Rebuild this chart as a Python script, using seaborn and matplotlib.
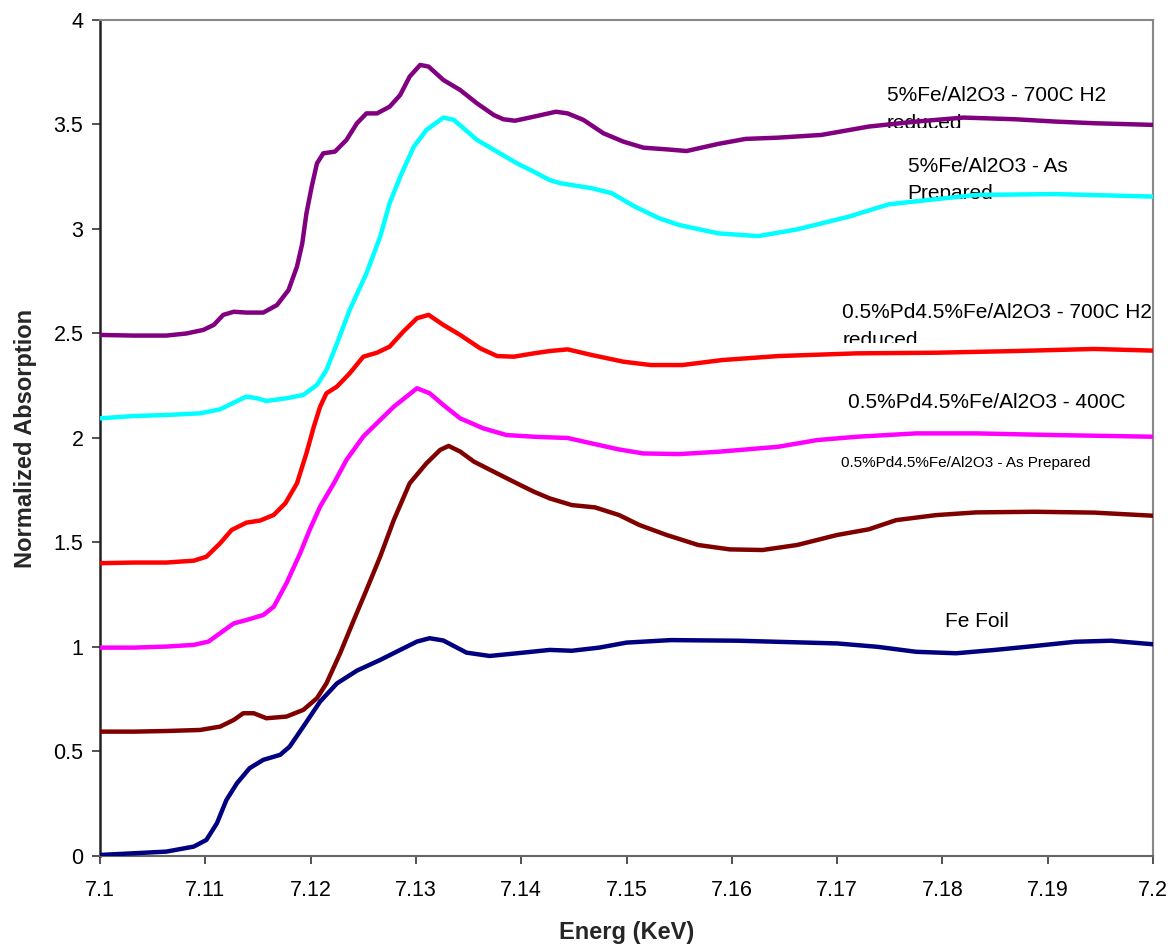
import matplotlib
matplotlib.use("Agg")
from matplotlib import pyplot as plt
from matplotlib.transforms import Bbox, TransformedBbox
import seaborn as sns
import pandas as pd

# --- data (energy in KeV, normalized absorption) ---
FE_FOIL_X = [7.1, 7.1032, 7.1063, 7.1089, 7.1101, 7.1111, 7.112, 7.113, 7.1142, 7.1155,
             7.1171, 7.118, 7.1193, 7.1209, 7.1225, 7.1244, 7.1266, 7.1285, 7.1301, 7.1313,
             7.1326, 7.1348, 7.137, 7.1396, 7.1427, 7.1448, 7.1474, 7.15, 7.1542, 7.1606,
             7.17, 7.1738, 7.1775, 7.1813, 7.185, 7.1888, 7.1926, 7.196, 7.2]
FE_FOIL_Y = [0.005, 0.013, 0.021, 0.045, 0.077, 0.157, 0.268, 0.348, 0.42, 0.46,
             0.484, 0.523, 0.619, 0.739, 0.826, 0.887, 0.938, 0.986, 1.026, 1.042,
             1.031, 0.973, 0.957, 0.97, 0.986, 0.982, 0.997, 1.021, 1.033, 1.03,
             1.017, 1.001, 0.977, 0.97, 0.986, 1.005, 1.025, 1.03, 1.013]

PD_PREP_X = [7.1, 7.1032, 7.1063, 7.1095, 7.1114, 7.1127, 7.1136, 7.1146, 7.1158, 7.1177,
             7.1193, 7.1206, 7.1215, 7.1228, 7.1241, 7.1253, 7.1266, 7.1279, 7.1294, 7.131,
             7.1323, 7.1331, 7.1342, 7.1355, 7.138, 7.1399, 7.1412, 7.1427, 7.1448, 7.147,
             7.1493, 7.1512, 7.1538, 7.1568, 7.1598, 7.1629, 7.1662, 7.17, 7.173, 7.1756,
             7.1794, 7.1832, 7.1888, 7.1944, 7.2]
PD_PREP_Y = [0.595, 0.595, 0.598, 0.603, 0.619, 0.651, 0.683, 0.683, 0.659, 0.667,
             0.699, 0.755, 0.826, 0.97, 1.129, 1.273, 1.432, 1.608, 1.783, 1.879,
             1.943, 1.962, 1.935, 1.887, 1.823, 1.775, 1.743, 1.711, 1.679, 1.668,
             1.631, 1.584, 1.536, 1.488, 1.467, 1.464, 1.488, 1.536, 1.563, 1.607,
             1.631, 1.644, 1.647, 1.643, 1.628]

PD_400_X = [7.1, 7.1032, 7.1063, 7.1089, 7.1103, 7.1114, 7.1127, 7.1139, 7.1155, 7.1165,
            7.1177, 7.119, 7.1199, 7.1209, 7.1222, 7.1234, 7.125, 7.1266, 7.1279, 7.1301,
            7.1313, 7.1326, 7.1342, 7.1364, 7.1386, 7.1412, 7.1427, 7.1444, 7.1467, 7.1493,
            7.1516, 7.155, 7.1587, 7.1644, 7.1681, 7.1719, 7.1775, 7.1832, 7.1907, 7.2]
PD_400_Y = [0.997, 0.997, 1.002, 1.01, 1.026, 1.066, 1.113, 1.129, 1.153, 1.193,
            1.305, 1.448, 1.56, 1.672, 1.783, 1.895, 2.007, 2.086, 2.15, 2.238,
            2.214, 2.158, 2.094, 2.046, 2.014, 2.006, 2.003, 2.0, 1.974, 1.945,
            1.926, 1.923, 1.934, 1.958, 1.99, 2.006, 2.022, 2.022, 2.014, 2.006]

PD_RED_X = [7.1, 7.1032, 7.1063, 7.1089, 7.1101, 7.1114, 7.1125, 7.1139, 7.1152, 7.1165,
            7.1176, 7.1187, 7.1196, 7.1203, 7.1209, 7.1215, 7.1225, 7.1237, 7.125, 7.1263,
            7.1275, 7.1288, 7.1301, 7.1312, 7.1326, 7.1342, 7.1361, 7.1377, 7.1393, 7.1412,
            7.1427, 7.1444, 7.1467, 7.1497, 7.1523, 7.1553, 7.1591, 7.1644, 7.1719, 7.1794,
            7.1869, 7.1944, 7.2]
PD_RED_Y = [1.401, 1.404, 1.404, 1.413, 1.432, 1.496, 1.56, 1.595, 1.605, 1.632,
            1.688, 1.783, 1.927, 2.054, 2.15, 2.214, 2.246, 2.309, 2.389, 2.408,
            2.437, 2.509, 2.573, 2.589, 2.541, 2.493, 2.429, 2.392, 2.389, 2.405,
            2.416, 2.424, 2.397, 2.365, 2.349, 2.349, 2.373, 2.392, 2.405, 2.408,
            2.416, 2.426, 2.418]

FE_PREP_X = [7.1, 7.1032, 7.1063, 7.1095, 7.1114, 7.1127, 7.1139, 7.1149, 7.1158, 7.1177,
             7.1193, 7.1206, 7.1215, 7.1225, 7.1237, 7.1253, 7.1266, 7.1275, 7.1285, 7.1298,
             7.131, 7.1326, 7.1336, 7.1358, 7.1377, 7.1396, 7.1412, 7.1427, 7.1437, 7.1467,
             7.1486, 7.1508, 7.1531, 7.155, 7.1587, 7.1625, 7.1662, 7.1711, 7.1749, 7.1787,
             7.1832, 7.1907, 7.2]
FE_PREP_Y = [2.094, 2.105, 2.11, 2.118, 2.137, 2.169, 2.198, 2.19, 2.177, 2.19,
             2.206, 2.254, 2.325, 2.453, 2.612, 2.788, 2.963, 3.123, 3.25, 3.394,
             3.474, 3.533, 3.522, 3.426, 3.37, 3.314, 3.274, 3.234, 3.219, 3.195,
             3.171, 3.107, 3.051, 3.019, 2.979, 2.966, 2.998, 3.059, 3.118, 3.139,
             3.163, 3.167, 3.155]

FE_RED_X = [7.1, 7.1032, 7.1063, 7.1082, 7.1098, 7.1108, 7.1117, 7.1127, 7.1139, 7.1155,
            7.1168, 7.1179, 7.1187, 7.1192, 7.1196, 7.1201, 7.1206, 7.1212, 7.1223, 7.1234,
            7.1244, 7.1253, 7.1263, 7.1275, 7.1285, 7.1294, 7.1304, 7.1312, 7.1326, 7.1342,
            7.1358, 7.1374, 7.1383, 7.1394, 7.1408, 7.1433, 7.1444, 7.1459, 7.1478, 7.1497,
            7.1516, 7.1538, 7.1557, 7.1587, 7.1613, 7.1644, 7.1685, 7.173, 7.1775, 7.182,
            7.1869, 7.1907, 7.1944, 7.2]
FE_RED_Y = [2.493, 2.49, 2.49, 2.5, 2.517, 2.541, 2.589, 2.604, 2.6, 2.6,
            2.636, 2.708, 2.82, 2.93, 3.075, 3.203, 3.314, 3.362, 3.37, 3.426,
            3.506, 3.553, 3.553, 3.585, 3.641, 3.729, 3.785, 3.777, 3.713, 3.665,
            3.601, 3.545, 3.525, 3.518, 3.533, 3.561, 3.553, 3.522, 3.458, 3.418,
            3.389, 3.381, 3.373, 3.407, 3.431, 3.437, 3.45, 3.49, 3.514, 3.533,
            3.525, 3.514, 3.506, 3.498]

SERIES = [
    ("Fe Foil", FE_FOIL_X, FE_FOIL_Y),
    ("0.5%Pd4.5%Fe/Al2O3 - As Prepared", PD_PREP_X, PD_PREP_Y),
    ("0.5%Pd4.5%Fe/Al2O3 - 400C", PD_400_X, PD_400_Y),
    ("0.5%Pd4.5%Fe/Al2O3 - 700C H2 reduced", PD_RED_X, PD_RED_Y),
    ("5%Fe/Al2O3 - As Prepared", FE_PREP_X, FE_PREP_Y),
    ("5%Fe/Al2O3 - 700C H2 reduced", FE_RED_X, FE_RED_Y),
]
COLORS = ["#000080", "#800000", "#ff00ff", "#ff0000", "#00ffff", "#800080"]

X_TICKS = [7.1, 7.11, 7.12, 7.13, 7.14, 7.15, 7.16, 7.17, 7.18, 7.19, 7.2]
X_TICK_LABELS = ["7.1", "7.11", "7.12", "7.13", "7.14", "7.15", "7.16", "7.17", "7.18", "7.19", "7.2"]
Y_TICKS = [0, 0.5, 1, 1.5, 2, 2.5, 3, 3.5, 4]
Y_TICK_LABELS = ["0", "0.5", "1", "1.5", "2", "2.5", "3", "3.5", "4"]

# (text, x, y, fontsize, va, clip bottom)
LABELS = [
    ("5%Fe/Al2O3 - 700C H2\nreduced", 7.1747, 3.682, 15, "top", 3.485),
    ("5%Fe/Al2O3 - As\nPrepared", 7.1767, 3.346, 15, "top", 3.14),
    ("0.5%Pd4.5%Fe/Al2O3 - 700C H2\nreduced", 7.1705, 2.645, 15, "top", 2.455),
    ("0.5%Pd4.5%Fe/Al2O3 - 400C", 7.171, 2.172, 15, "center", None),
    ("0.5%Pd4.5%Fe/Al2O3 - As Prepared", 7.1704, 1.878, 11, "center", None),
    ("Fe Foil", 7.1802, 1.124, 15, "center", None),
]

df = pd.concat(
    [pd.DataFrame({"energy": x, "absorption": y, "sample": name}) for name, x, y in SERIES],
    ignore_index=True,
)

sns.set_theme(style="white")
plt.rcParams["font.family"] = ["Liberation Sans", "DejaVu Sans"]

fig = plt.figure(figsize=(11.73, 9.47), dpi=100)
ax = fig.add_axes([0.0853, 0.0961, 0.8977, 0.8828])

sns.lineplot(
    data=df, x="energy", y="absorption", hue="sample",
    palette=COLORS, hue_order=[s[0] for s in SERIES],
    estimator=None, sort=False, linewidth=3.2, legend=False, ax=ax, zorder=3,
    solid_joinstyle="round",
)

# labels sit under the curves and are cut off at the bottom, like the original
for text, x, y, size, va, clip_y in LABELS:
    t = ax.text(x, y, text, fontsize=size, va=va, ha="left", color="black",
                linespacing=1.58, zorder=1)
    if clip_y is not None:
        t.set_clip_box(TransformedBbox(Bbox([[7.1, clip_y], [7.2, 4.0]]), ax.transData))
        t.set_clip_on(True)

ax.set_xlim(7.1, 7.2)
ax.set_ylim(0, 4)
ax.set_xticks(X_TICKS, X_TICK_LABELS)
ax.set_yticks(Y_TICKS, Y_TICK_LABELS)
ax.tick_params(axis="both", direction="out", length=6, width=1.2, color="#333333",
               labelsize=15.5, labelcolor="black", bottom=True, left=True)
ax.tick_params(axis="x", pad=11)
ax.tick_params(axis="y", pad=6)

for side in ["top", "right"]:
    ax.spines[side].set_color("#888888")
    ax.spines[side].set_linewidth(1.5)
ax.spines["left"].set_color("#222222")
ax.spines["left"].set_linewidth(1.8)
ax.spines["bottom"].set_color("#666666")
ax.spines["bottom"].set_linewidth(1.5)

ax.set_xlabel("Energ (KeV)", fontsize=17, fontweight="bold", labelpad=15)
ax.set_ylabel("Normalized Absorption", fontsize=17, fontweight="bold", labelpad=12)

fig.savefig("out.png", dpi=100)
